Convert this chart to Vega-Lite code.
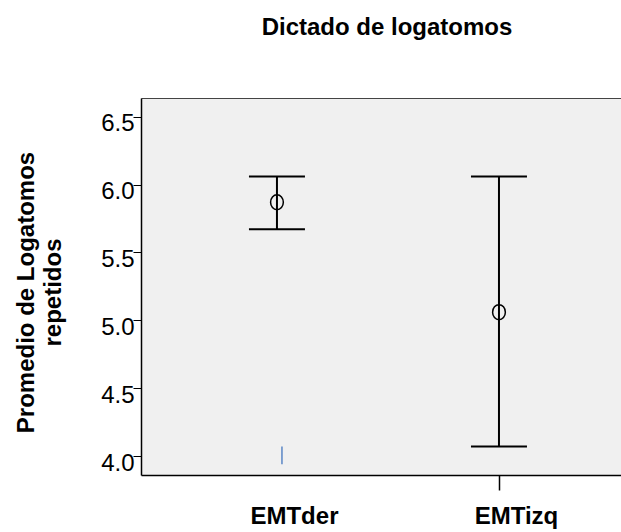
{
  "$schema": "https://vega.github.io/schema/vega-lite/v6.json",
  "width": 480,
  "height": 377,
  "autosize": "none",
  "padding": {"left": 141, "top": 98, "right": 0, "bottom": 57},
  "background": "white",
  "title": {
    "text": "Dictado de logatomos",
    "font": "Liberation Sans",
    "fontSize": 24,
    "fontWeight": "bold",
    "color": "black",
    "anchor": "middle",
    "frame": "group",
    "baseline": "alphabetic",
    "offset": 39,
    "dx": 6
  },
  "config": {
    "font": "Liberation Sans",
    "view": {"stroke": null, "fill": "#f0f0f0"}
  },
  "datasets": {
    "barras": [
      {"grupo": "EMTder", "media": 5.87, "inferior": 5.67, "superior": 6.06},
      {"grupo": "EMTizq", "media": 5.06, "inferior": 4.07, "superior": 6.06}
    ],
    "marca": [
      {"grupo": "EMTder", "desde": 3.94, "hasta": 4.07}
    ]
  },
  "resolve": {"axis": {"x": "independent"}},
  "layer": [
    {
      "data": {"name": "barras"},
      "mark": {"type": "rule", "color": "black", "strokeWidth": 2, "opacity": 1},
      "encoding": {
        "x": {
          "field": "grupo",
          "type": "nominal",
          "scale": {"type": "point", "domain": ["EMTder", "EMTizq"], "padding": 0.581, "align": 0.527},
          "axis": {
            "orient": "bottom",
            "title": null,
            "labelFont": "Liberation Sans",
            "labelFontSize": 24,
            "labelFontWeight": "bold",
            "labelColor": "black",
            "labelAngle": 0,
            "labelBaseline": "alphabetic",
            "labelPadding": 33,
            "labelOffset": 17,
            "tickSize": 15,
            "tickWidth": 1.5,
            "tickColor": "black",
            "tickOpacity": {"condition": {"test": "datum.value === 'EMTizq'", "value": 1}, "value": 0},
            "domainColor": "black",
            "domainWidth": 1.5,
            "grid": false
          }
        },
        "y": {
          "field": "inferior",
          "type": "quantitative",
          "scale": {"domain": [3.86, 6.638], "nice": false, "zero": false},
          "axis": {
            "values": [4, 4.5, 5, 5.5, 6, 6.5],
            "format": ".1f",
            "grid": false,
            "tickSize": 8,
            "tickColor": "black",
            "tickWidth": 1,
            "domainColor": "black",
            "domainWidth": 1.5,
            "labelFont": "Liberation Sans",
            "labelFontSize": 24,
            "labelColor": "black",
            "labelPadding": -1,
            "labelBaseline": "alphabetic",
            "labelOffset": 14,
            "labelFlush": false,
            "labelOverlap": false,
            "title": ["Promedio de Logatomos", "repetidos"],
            "titleFont": "Liberation Sans",
            "titleFontSize": 24,
            "titleFontWeight": "bold",
            "titleColor": "black",
            "titleAngle": -90,
            "titleX": -108,
            "titleY": 194,
            "titleBaseline": "alphabetic",
            "titleAlign": "center",
            "titleLineHeight": 27
          }
        },
        "y2": {"field": "superior"}
      }
    },
    {
      "data": {"name": "barras"},
      "mark": {"type": "tick", "color": "black", "size": 56, "thickness": 2, "orient": "horizontal", "opacity": 1},
      "encoding": {
        "x": {
          "field": "grupo",
          "type": "nominal",
          "axis": {
            "orient": "top",
            "title": null,
            "labels": false,
            "ticks": false,
            "grid": false,
            "minExtent": 0,
            "maxExtent": 0,
            "domainColor": "#444444",
            "domainWidth": 1
          }
        },
        "y": {"field": "superior", "type": "quantitative"}
      }
    },
    {
      "data": {"name": "barras"},
      "mark": {"type": "tick", "color": "black", "size": 56, "thickness": 2, "orient": "horizontal", "opacity": 1},
      "encoding": {
        "x": {"field": "grupo", "type": "nominal", "axis": null},
        "y": {"field": "inferior", "type": "quantitative"}
      }
    },
    {
      "data": {"name": "barras"},
      "mark": {
        "type": "point",
        "shape": "M0,-1A0.85,1 0 1,1 0,1A0.85,1 0 1,1 0,-1Z",
        "size": 225,
        "filled": false,
        "stroke": "black",
        "strokeWidth": 1.5,
        "opacity": 1
      },
      "encoding": {
        "x": {"field": "grupo", "type": "nominal", "axis": null},
        "y": {"field": "media", "type": "quantitative"}
      }
    },
    {
      "data": {"name": "marca"},
      "mark": {"type": "rule", "color": "#5a86c5", "strokeWidth": 1.5, "xOffset": 5},
      "encoding": {
        "x": {"field": "grupo", "type": "nominal", "axis": null},
        "y": {"field": "desde", "type": "quantitative"},
        "y2": {"field": "hasta"}
      }
    }
  ]
}
